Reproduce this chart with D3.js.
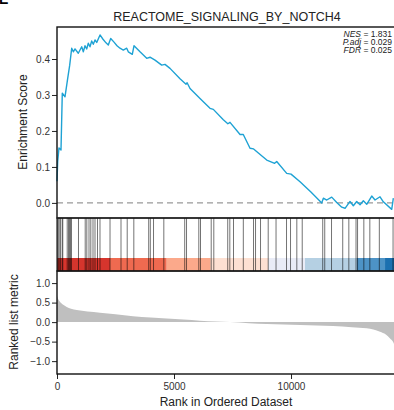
<!DOCTYPE html>
<html>
<head>
<meta charset="utf-8">
<script src="https://cdn.jsdelivr.net/npm/d3@7"></script>
<style>
  body { margin: 0; background: #fff; }
  text { font-family: "Liberation Sans", Arial, sans-serif; }
</style>
</head>
<body>
<div id="container"></div>
<script>
// running enrichment score, [rank, ES]
const esPoints = [
  [0, 0.06], [30, 0.115], [85, 0.153], [171, 0.147], [226, 0.305], [342, 0.295],
  [457, 0.346], [543, 0.383], [628, 0.43], [697, 0.42], [769, 0.428], [910, 0.416],
  [1056, 0.434], [1124, 0.42], [1197, 0.437], [1269, 0.428], [1338, 0.444], [1410, 0.434],
  [1483, 0.45], [1551, 0.441], [1624, 0.453], [1697, 0.446], [1838, 0.467], [1966, 0.455],
  [2094, 0.445], [2192, 0.439], [2295, 0.457], [2436, 0.447], [2564, 0.437], [2692, 0.43],
  [2833, 0.425], [2979, 0.43], [3047, 0.42], [3218, 0.413], [3291, 0.437], [3547, 0.42],
  [3833, 0.402], [3974, 0.405], [4188, 0.397], [4474, 0.383], [4615, 0.385], [4829, 0.374],
  [5256, 0.345], [5513, 0.33], [5560, 0.334], [5684, 0.318], [6111, 0.29], [6538, 0.263],
  [6680, 0.26], [7107, 0.231], [7300, 0.22], [7393, 0.224], [7821, 0.19], [7960, 0.19],
  [8248, 0.152], [8400, 0.15], [8962, 0.119], [9300, 0.11], [9389, 0.115], [9816, 0.082],
  [10000, 0.08], [10385, 0.059], [10850, 0.03], [11312, 0.0], [11382, 0.013], [11526, 0.008],
  [11739, 0.016], [11953, 0.001], [12167, -0.012], [12308, -0.015], [12521, 0.004],
  [12662, -0.008], [12808, 0.004], [12949, -0.005], [13090, 0.006], [13235, -0.004],
  [13449, 0.019], [13590, 0.008], [13803, 0.017], [13944, 0.003], [14303, -0.018], [14372, 0.013]
];

// ranks of the gene set members
const hitRanks = [
  0, 30, 73, 128, 200, 226, 415, 470, 513, 556, 598, 897, 1184, 1252, 1346, 1423, 1517,
  1603, 1709, 1816, 2244, 2714, 2979, 3261, 3897, 3966, 4103, 4543, 5436, 5513, 6038,
  6111, 6568, 6679, 7274, 7363, 7521, 7940, 8376, 8462, 8675, 9004, 9338, 9786, 9957,
  10226, 10457, 11333, 11419, 11709, 12188, 12449, 12756, 12821, 13090, 13346, 13752, 14338
];

// ranked list metric, [rank, value]
const metricPoints = [
  [0, 0.68], [13, 0.65], [128, 0.52], [250, 0.45], [415, 0.39], [600, 0.34], [842, 0.31],
  [1300, 0.27], [1838, 0.24], [2500, 0.2], [3248, 0.15], [4000, 0.12], [4688, 0.095],
  [5400, 0.065], [6111, 0.035], [6800, 0.015], [7393, 0], [8200, -0.03], [8962, -0.05],
  [10400, -0.075], [11795, -0.1], [12600, -0.13], [13235, -0.16], [13803, -0.25],
  [14050, -0.32], [14231, -0.42], [14350, -0.5], [14400, -0.56]
];

// colour bar blocks along the ranking
const bandStarts = [0, 2265, 4688, 6568, 9030, 10598, 12808, 14017];
const bandEnds = [2265, 4688, 6568, 9030, 10598, 12808, 14017, 14400];
const bandColors = ["#d6352d", "#ef6a50", "#fba98b", "#fde0d2", "#e9ecf7", "#b5d0e3", "#4d93c6", "#1b70b0"];

const esTicks = [0.0, 0.1, 0.2, 0.3, 0.4];
const metricTicks = [1.0, 0.5, 0.0, -0.5, -1.0];
const rankTicks = [0, 5000, 10000];

const w = 394;
const h = 410;
const left = 57;
const right = 396;

const svg = d3.select("#container").append("svg")
  .attr("width", w).attr("height", h);

const x = d3.scaleLinear().domain([0, 14400]).range([left, 394]);
const yES = d3.scaleLinear().domain([-0.042, 0.489]).range([218, 27]);
const yHit = [218, 271];
const barTop = 258;
const yMetric = d3.scaleLinear().domain([-1.33, 1.31]).range([374, 271]);

// panel letter (cropped at the top like the source)
svg.append("text").attr("x", -1).attr("y", 4)
  .attr("font-size", 14).attr("font-weight", "bold").text("E");

// title
svg.append("text").attr("x", 227).attr("y", 21)
  .attr("text-anchor", "middle").attr("font-size", 12.5).attr("fill", "#222")
  .text("REACTOME_SIGNALING_BY_NOTCH4");

// ---- ES panel
svg.append("line")
  .attr("x1", left).attr("x2", right)
  .attr("y1", yES(0)).attr("y2", yES(0))
  .attr("stroke", "#999").attr("stroke-width", 1.3).attr("stroke-dasharray", "6,4");

svg.append("path").datum(esPoints)
  .attr("fill", "none").attr("stroke", "#1ea2d4").attr("stroke-width", 1.4)
  .attr("stroke-linejoin", "round")
  .attr("d", d3.line().x(d => x(d[0])).y(d => yES(d[1])));

svg.append("g").attr("transform", `translate(${left},0)`)
  .call(d3.axisLeft(yES).tickValues(esTicks).tickFormat(d3.format(".1f")).tickSize(5).tickPadding(2).tickSizeOuter(0))
  .call(g => g.select(".domain").remove())
  .call(g => g.selectAll("text").attr("font-size", 10).attr("fill", "#333").attr("font-family", "Liberation Sans, Arial"))
  .call(g => g.selectAll("line").attr("stroke", "#222"));

svg.append("rect").attr("x", left).attr("y", 27).attr("width", right - left).attr("height", 218 - 27)
  .attr("fill", "none").attr("stroke", "#111").attr("stroke-width", 1.4);

// ---- hits panel
svg.selectAll("rect.band").data(bandStarts).enter().append("rect")
  .attr("class", "band")
  .attr("x", (d, i) => x(d)).attr("width", (d, i) => x(bandEnds[i]) - x(d))
  .attr("y", barTop).attr("height", yHit[1] - barTop)
  .attr("fill", (d, i) => bandColors[i]);

svg.selectAll("line.hit").data(hitRanks).enter().append("line")
  .attr("class", "hit")
  .attr("x1", d => x(d) + 0.5).attr("x2", d => x(d) + 0.5)
  .attr("y1", yHit[0]).attr("y2", yHit[1])
  .attr("stroke", "#000").attr("stroke-opacity", 0.55).attr("stroke-width", 1);

svg.append("rect").attr("x", left).attr("y", yHit[0]).attr("width", right - left).attr("height", yHit[1] - yHit[0])
  .attr("fill", "none").attr("stroke", "#222").attr("stroke-width", 1.2);

// ---- ranked metric panel
svg.append("path").datum(metricPoints)
  .attr("fill", "#bfbfbf")
  .attr("d", d3.area().curve(d3.curveMonotoneX)
    .x(d => x(d[0])).y0(yMetric(0)).y1(d => yMetric(d[1])));

svg.append("g").attr("transform", `translate(${left},0)`)
  .call(d3.axisLeft(yMetric).tickValues(metricTicks).tickFormat(d3.format(".1f")).tickSize(5).tickPadding(2).tickSizeOuter(0))
  .call(g => g.select(".domain").remove())
  .call(g => g.selectAll("text").attr("font-size", 10).attr("fill", "#333").attr("font-family", "Liberation Sans, Arial"))
  .call(g => g.selectAll("line").attr("stroke", "#222"));

svg.append("g").attr("transform", `translate(0,374)`)
  .call(d3.axisBottom(x).tickValues(rankTicks).tickFormat(d3.format("d")).tickSize(5).tickPadding(4).tickSizeOuter(0))
  .call(g => g.select(".domain").remove())
  .call(g => g.selectAll("text").attr("font-size", 10).attr("fill", "#333").attr("font-family", "Liberation Sans, Arial"))
  .call(g => g.selectAll("line").attr("stroke", "#222"));

svg.append("rect").attr("x", left).attr("y", 271).attr("width", right - left).attr("height", 374 - 271)
  .attr("fill", "none").attr("stroke", "#111").attr("stroke-width", 1.4);

// ---- stats
const stats = [
  ["NES", " = 1.831"],
  ["P.adj", " = 0.029"],
  ["FDR", " = 0.025"]
];
stats.forEach((s, i) => {
  const t = svg.append("text")
    .attr("transform", `translate(392,${37 + i * 8})`)
    .attr("text-anchor", "end").attr("font-size", 8.5).attr("fill", "#222");
  t.append("tspan").attr("font-style", "italic").text(s[0]);
  t.append("tspan").text(s[1]);
});

// ---- axis titles
svg.append("text").attr("transform", "translate(27,122) rotate(-90)")
  .attr("text-anchor", "middle").attr("font-size", 12).attr("fill", "#222").text("Enrichment Score");
svg.append("text").attr("transform", "translate(18,322) rotate(-90)")
  .attr("text-anchor", "middle").attr("font-size", 12).attr("fill", "#222").text("Ranked list metric");
svg.append("text").attr("x", 226).attr("y", 406)
  .attr("text-anchor", "middle").attr("font-size", 12).attr("fill", "#222").text("Rank in Ordered Dataset");
</script>
</body>
</html>
